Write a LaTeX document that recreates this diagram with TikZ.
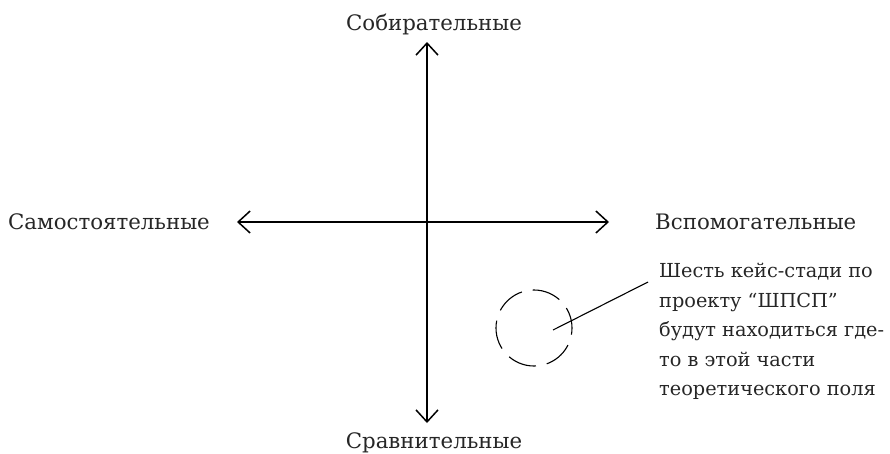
\documentclass[tikz,border=0pt]{standalone}
\usepackage{fontspec}
\setmainfont{DejaVu Serif}
\usetikzlibrary{arrows.meta}
\begin{document}
\begin{tikzpicture}[x=1pt,y=-1pt,
  axis/.style={line width=1.5pt,{Straight Barb[length=12pt,width=22pt]}-{Straight Barb[length=12pt,width=22pt]}},
  lbl/.style={font=\fontsize{21.3}{25}\selectfont, inner sep=0pt, text=black!85},
  note/.style={font=\fontsize{19.3}{29.5}\selectfont, inner sep=0pt, align=left, anchor=north west, text=black!85},
  dashcirc/.style={line width=1.1pt, dash pattern=on 29pt off 11pt, dash phase=8pt},
  leader/.style={line width=1.1pt}]
\useasboundingbox (0,0) rectangle (890,453);
\coordinate (T) at (427,42);
\coordinate (B) at (427,423);
\coordinate (L) at (237,222);
\coordinate (R) at (609,222);
\draw[axis] (B) -- (T);
\draw[axis] (L) -- (R);
\node[lbl, anchor=base] (top) at (434,30) {Собирательные};
\node[lbl, anchor=base] (bot) at (434,448) {Сравнительные};
\node[lbl, anchor=base west] (left) at (8,229) {Самостоятельные};
\node[lbl, anchor=base west] (right) at (655,229) {Вспомогательные};
\node[dashcirc, draw, circle, minimum size=76pt, inner sep=0pt] (circ) at (534,328) {};
\coordinate (lstart) at (553,330);
\node[note] (txt) at (659,263) {Шесть кейс-стади по\\проекту “ШПСП”\\будут находиться где-\\то в этой части\\теоретического поля};
\coordinate (lend) at (648,282);
\draw[leader] (lstart) -- (lend);
\end{tikzpicture}
\end{document}
